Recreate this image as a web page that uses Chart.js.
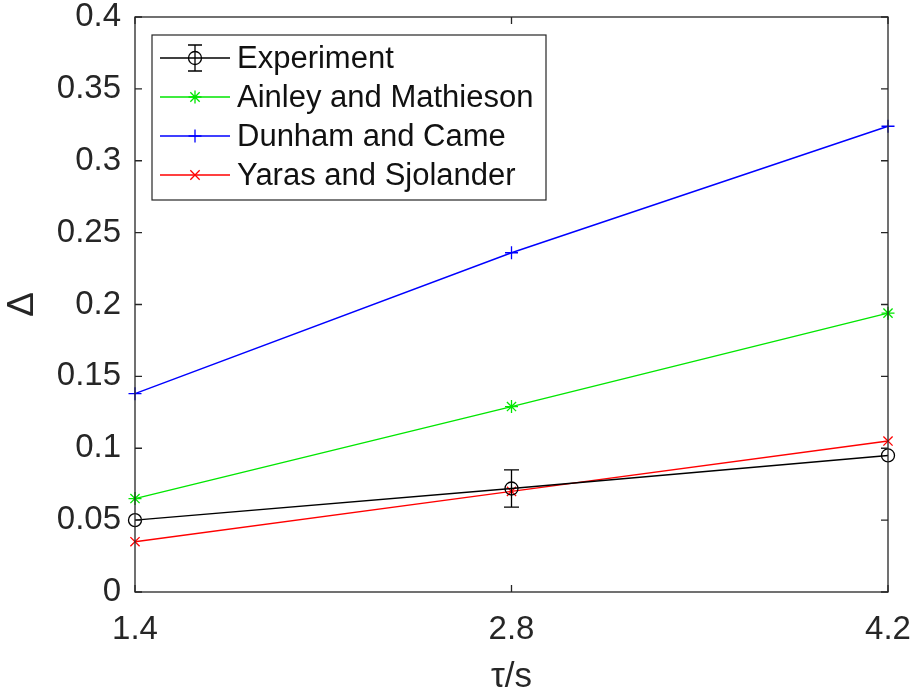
<!DOCTYPE html>
<html lang="en">
<head>
  <meta charset="UTF-8" />
  <title>Δ vs τ/s</title>
  <script src="https://cdn.jsdelivr.net/npm/chart.js"></script>
  <style>
    html, body { margin: 0; padding: 0; background: #ffffff; }
    .wrap { width: 918px; height: 698px; }
  </style>
</head>
<body>
  <div class="wrap"><canvas id="deltaChart" width="918" height="698"></canvas></div>

  <script>
    // x positions (τ/s) and the four series
    const tauRatio = [1.4, 2.8, 4.2];
    const experiment = [0.050, 0.072, 0.095];
    const experimentErr = [null, 0.013, null];
    const ainleyMathieson = [0.065, 0.129, 0.194];
    const dunhamCame = [0.138, 0.236, 0.324];
    const yarasSjolander = [0.035, 0.070, 0.105];
    const yTicks = [0, 0.05, 0.1, 0.15, 0.2, 0.25, 0.3, 0.35, 0.4];

    const AXIS = '#262626';
    const FONT = '"Liberation Sans", Arial, Helvetica, sans-serif';

    const series = [
      { label: 'Experiment', data: experiment, color: '#000000', style: 'circle' },
      { label: 'Ainley and Mathieson', data: ainleyMathieson, color: '#00e600', style: 'star' },
      { label: 'Dunham and Came', data: dunhamCame, color: '#0000ff', style: 'cross' },
      { label: 'Yaras and Sjolander', data: yarasSjolander, color: '#ff0000', style: 'crossRot' },
    ];

    // small marker painter for the legend box
    function drawMarker(ctx, style, x, y, r, color) {
      ctx.save();
      ctx.strokeStyle = color;
      ctx.lineWidth = 1.3;
      ctx.beginPath();
      if (style === 'circle') {
        ctx.arc(x, y, r, 0, Math.PI * 2);
      }
      if (style === 'cross' || style === 'star') {
        ctx.moveTo(x - r, y); ctx.lineTo(x + r, y);
        ctx.moveTo(x, y - r); ctx.lineTo(x, y + r);
      }
      if (style === 'crossRot' || style === 'star') {
        const d = r * 0.72;
        ctx.moveTo(x - d, y - d); ctx.lineTo(x + d, y + d);
        ctx.moveTo(x - d, y + d); ctx.lineTo(x + d, y - d);
      }
      ctx.stroke();
      ctx.restore();
    }

    const framePlugin = {
      id: 'frame',
      afterDatasetsDraw(chart) {
        const ctx = chart.ctx;
        const xs = chart.scales.x, ys = chart.scales.y;
        // error bars on the experiment
        ctx.save();
        ctx.strokeStyle = '#000000';
        ctx.lineWidth = 1.3;
        experimentErr.forEach((e, i) => {
          if (e == null) return;
          const px = xs.getPixelForValue(tauRatio[i]);
          const top = ys.getPixelForValue(experiment[i] + e);
          const bot = ys.getPixelForValue(experiment[i] - e);
          ctx.beginPath();
          ctx.moveTo(px, top); ctx.lineTo(px, bot);
          ctx.moveTo(px - 7.5, top); ctx.lineTo(px + 7.5, top);
          ctx.moveTo(px - 7.5, bot); ctx.lineTo(px + 7.5, bot);
          ctx.stroke();
        });
        ctx.restore();
      },
      afterDraw(chart) {
        const ctx = chart.ctx;
        const ca = chart.chartArea;
        const xs = chart.scales.x, ys = chart.scales.y;
        ctx.save();
        ctx.strokeStyle = AXIS;
        ctx.lineWidth = 1.3;
        ctx.strokeRect(ca.left, ca.top, ca.right - ca.left, ca.bottom - ca.top);

        // inward ticks on all four sides
        const tl = 7;
        ctx.beginPath();
        yTicks.forEach(v => {
          const py = ys.getPixelForValue(v);
          ctx.moveTo(ca.left, py); ctx.lineTo(ca.left + tl, py);
          ctx.moveTo(ca.right, py); ctx.lineTo(ca.right - tl, py);
        });
        tauRatio.forEach(v => {
          const px = xs.getPixelForValue(v);
          ctx.moveTo(px, ca.bottom); ctx.lineTo(px, ca.bottom - tl);
          ctx.moveTo(px, ca.top); ctx.lineTo(px, ca.top + tl);
        });
        ctx.stroke();

        // legend box, top left inside the axes
        const lx = ca.left + 17, ly = ca.top + 18, lw = 394, lh = 165;
        ctx.fillStyle = '#ffffff';
        ctx.fillRect(lx, ly, lw, lh);
        ctx.strokeStyle = AXIS;
        ctx.lineWidth = 1.2;
        ctx.strokeRect(lx, ly, lw, lh);

        ctx.font = '31px ' + FONT;
        ctx.textBaseline = 'middle';
        ctx.textAlign = 'left';
        series.forEach((s, i) => {
          const ry = ly + 23 + i * 39;
          ctx.strokeStyle = s.color;
          ctx.lineWidth = 1.3;
          ctx.beginPath();
          ctx.moveTo(lx + 8, ry); ctx.lineTo(lx + 78, ry);
          ctx.stroke();
          drawMarker(ctx, s.style, lx + 43, ry, 6.5, s.color);
          if (i === 0) {
            ctx.strokeStyle = '#000000';
            ctx.beginPath();
            ctx.moveTo(lx + 43, ry - 13); ctx.lineTo(lx + 43, ry + 13);
            ctx.moveTo(lx + 36, ry - 13); ctx.lineTo(lx + 50, ry - 13);
            ctx.moveTo(lx + 36, ry + 13); ctx.lineTo(lx + 50, ry + 13);
            ctx.stroke();
          }
          ctx.fillStyle = '#111111';
          ctx.fillText(s.label, lx + 85, ry + 1);
        });
        ctx.restore();
      }
    };

    const datasets = series.map(s => ({
      label: s.label,
      data: s.data.map((v, i) => ({ x: tauRatio[i], y: v })),
      borderColor: s.color,
      backgroundColor: 'rgba(0,0,0,0)',
      borderWidth: 1.4,
      pointStyle: s.style,
      pointRadius: 6.5,
      pointBorderWidth: 1.3,
      pointBorderColor: s.color,
      pointBackgroundColor: 'rgba(0,0,0,0)',
      tension: 0,
      clip: false,
    }));

    new Chart(document.getElementById('deltaChart'), {
      type: 'line',
      data: { datasets },
      options: {
        responsive: false,
        animation: false,
        layout: { padding: { top: 17, right: 30, left: 0, bottom: 0 } },
        plugins: { legend: { display: false }, tooltip: { enabled: false } },
        scales: {
          x: {
            type: 'linear',
            min: 1.4,
            max: 4.2,
            afterBuildTicks: scale => { scale.ticks = tauRatio.map(v => ({ value: v })); },
            afterFit: scale => { scale.height = 106; scale.paddingLeft = 0; scale.paddingRight = 0; },
            grid: { display: false, drawTicks: false },
            border: { display: false },
            ticks: {
              padding: 18,
              color: AXIS,
              font: { family: FONT, size: 33 },
              maxRotation: 0,
              callback: v => Number(v).toFixed(1),
            },
            title: {
              display: true,
              text: 'τ/s',
              color: AXIS,
              font: { family: FONT, size: 35 },
              padding: { top: 6, bottom: 0 },
            },
          },
          y: {
            min: 0,
            max: 0.4,
            afterBuildTicks: scale => { scale.ticks = yTicks.map(v => ({ value: v })); },
            afterFit: scale => { scale.width = 135; scale.paddingTop = 0; scale.paddingBottom = 0; },
            grid: { display: false, drawTicks: false },
            border: { display: false },
            ticks: {
              padding: 14,
              color: AXIS,
              font: { family: FONT, size: 33 },
              callback: v => String(+Number(v).toFixed(2)),
            },
            title: {
              display: true,
              text: 'Δ',
              color: AXIS,
              font: { family: FONT, size: 37 },
              padding: { top: 1, bottom: 0 },
            },
          },
        },
      },
      plugins: [framePlugin],
    });
  </script>
</body>
</html>
